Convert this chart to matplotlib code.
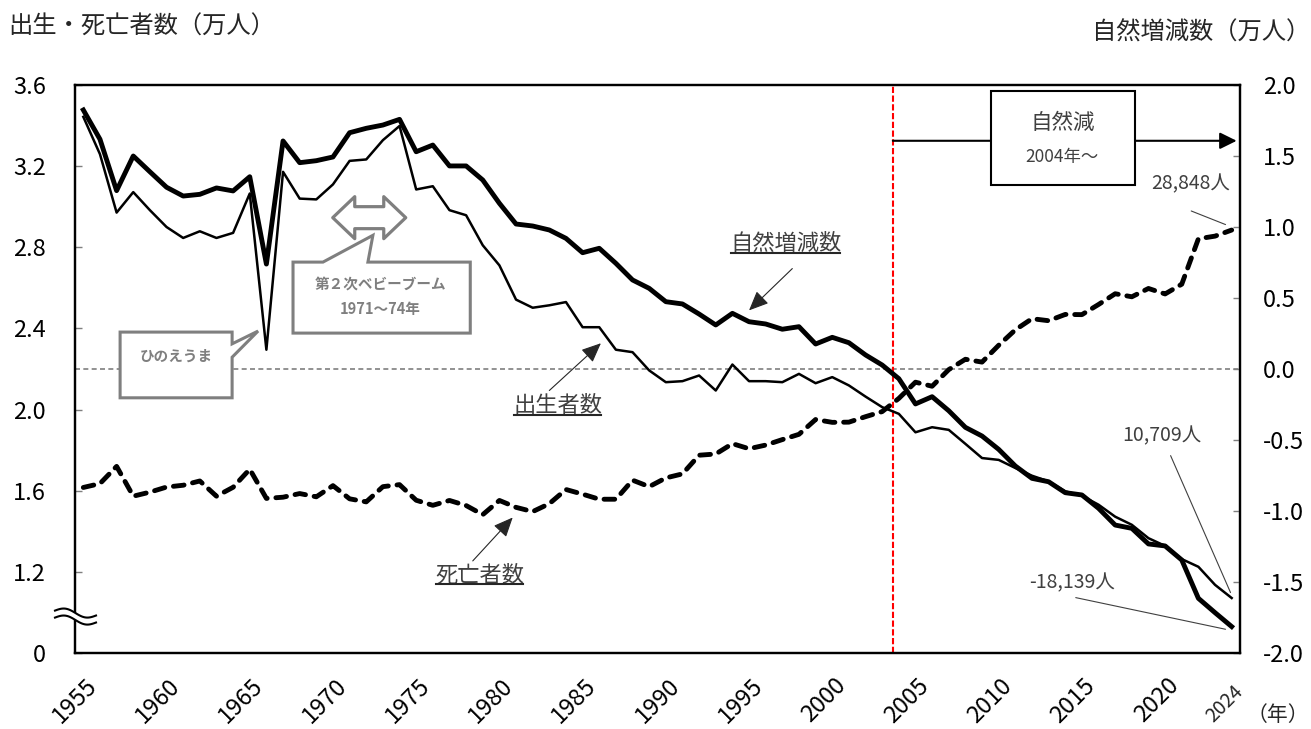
import numpy as np
import matplotlib
matplotlib.use('Agg')
import matplotlib.pyplot as plt
from matplotlib.patches import Polygon, Rectangle
from matplotlib.lines import Line2D
from matplotlib.transforms import ScaledTranslation, IdentityTransform

plt.rcParams['font.family'] = ['Noto Sans CJK JP', 'DejaVu Sans']

# data (万人)
years = np.arange(1955, 2025)
births = [3.443, 3.259, 2.971, 3.072, 2.983, 2.900, 2.846, 2.879, 2.846, 2.871,
          3.065, 2.295, 3.172, 3.040, 3.036, 3.110, 3.226, 3.233, 3.328, 3.398,
          3.085, 3.101, 2.983, 2.958, 2.810, 2.711, 2.542, 2.502, 2.514, 2.530,
          2.406, 2.406, 2.295, 2.283, 2.193, 2.135, 2.140, 2.168, 2.094, 2.222,
          2.140, 2.140, 2.135, 2.176, 2.130, 2.160, 2.119, 2.064, 2.012, 1.979,
          1.888, 1.913, 1.900, 1.831, 1.761, 1.752, 1.712, 1.674, 1.646, 1.597,
          1.575, 1.531, 1.472, 1.432, 1.366, 1.328, 1.263, 1.225, 1.136, 1.071]
deaths = [1.616, 1.635, 1.720, 1.573, 1.593, 1.618, 1.627, 1.648, 1.573, 1.617,
          1.706, 1.562, 1.568, 1.586, 1.570, 1.625, 1.560, 1.545, 1.620, 1.630,
          1.553, 1.528, 1.552, 1.527, 1.482, 1.552, 1.518, 1.497, 1.536, 1.606,
          1.583, 1.558, 1.558, 1.652, 1.620, 1.663, 1.683, 1.775, 1.781, 1.832,
          1.807, 1.825, 1.852, 1.878, 1.951, 1.937, 1.938, 1.965, 1.990, 2.055,
          2.135, 2.115, 2.197, 2.248, 2.234, 2.317, 2.393, 2.448, 2.438, 2.469,
          2.468, 2.518, 2.571, 2.556, 2.597, 2.570, 2.618, 2.842, 2.855, 2.885]
natural = [1.824, 1.618, 1.256, 1.500, 1.389, 1.280, 1.218, 1.230, 1.275, 1.254,
           1.354, 0.739, 1.606, 1.453, 1.467, 1.493, 1.664, 1.695, 1.718, 1.758,
           1.530, 1.577, 1.430, 1.430, 1.331, 1.167, 1.021, 1.007, 0.979, 0.920,
           0.819, 0.850, 0.744, 0.627, 0.568, 0.474, 0.458, 0.387, 0.310, 0.392,
           0.333, 0.317, 0.280, 0.298, 0.176, 0.223, 0.185, 0.099, 0.028, -0.068,
           -0.246, -0.195, -0.294, -0.411, -0.472, -0.566, -0.683, -0.770, -0.794, -0.871,
           -0.887, -0.981, -1.099, -1.122, -1.232, -1.246, -1.345, -1.615, -1.716, -1.814]

year_ticks = list(range(1955, 2021, 5))
left_ticks = [0.8, 1.2, 1.6, 2.0, 2.4, 2.8, 3.2, 3.6]
left_labels = ['0', '1.2', '1.6', '2.0', '2.4', '2.8', '3.2', '3.6']
right_ticks = [-2.0, -1.5, -1.0, -0.5, 0.0, 0.5, 1.0, 1.5, 2.0]
right_labels = ['-2.0', '-1.5', '-1.0', '-0.5', '0.0', '0.5', '1.0', '1.5', '2.0']

TXT = '#404040'
GRAY = '#7f7f7f'

fig = plt.figure(figsize=(13.11, 7.29), dpi=100)
ax = fig.add_axes([75 / 1311, 76 / 729, 1165 / 1311, 568 / 729])
ax2 = ax.twinx()

# lines
ax.plot(years, births, color='black', lw=1.8, solid_joinstyle='round', zorder=3)
ax.plot(years, deaths, color='black', lw=3.5, linestyle=(0, (2.2, 1.8)),
        dash_capstyle='round', dash_joinstyle='round', zorder=3)
ax2.plot(years, natural, color='black', lw=3.5, solid_joinstyle='round', zorder=3)

ax.set_xlim(1954.5, 2024.5)
ax.set_ylim(0.8, 3.6)
ax2.set_ylim(-2.0, 2.0)
ax.set_xticks([])

ax.set_yticks(left_ticks, left_labels)
ax2.set_yticks(right_ticks, right_labels)
ax.tick_params(axis='y', direction='in', length=5, width=1, color=GRAY, pad=21, labelsize=17)
ax2.tick_params(axis='y', direction='in', length=5, width=1, color=GRAY, pad=16.5, labelsize=17)
for a in (ax, ax2):
    for sp in a.spines.values():
        sp.set_linewidth(1.6)
        sp.set_color('black')

# year labels
off = ScaledTranslation(2 / 100, -21 / 100, fig.dpi_scale_trans)
for yr in year_ticks:
    ax.text(yr, 0, str(yr), transform=ax.get_xaxis_transform() + off, rotation=45,
            ha='right', va='top', rotation_mode='anchor', fontsize=17)
off24 = ScaledTranslation(1 / 100, -28 / 100, fig.dpi_scale_trans)
ax.text(2024, 0, '2024', transform=ax.get_xaxis_transform() + off24, rotation=45,
        ha='right', va='top', rotation_mode='anchor', fontsize=14, color='#262626')

# reference lines
ax.axhline(2.2, color=GRAY, lw=1.2, linestyle=(0, (3, 2)), zorder=1)
ax.axvline(2003.64, color='red', lw=1.5, linestyle=(0, (3, 1.2)), zorder=2)

# axis titles
fig.text(8 / 1311, 1 - 27 / 729, '出生・死亡者数（万人）', fontsize=17.5, va='center', ha='left', color='#262626')
fig.text(1092 / 1311, 1 - 33 / 729, '自然増減数（万人）', fontsize=17.5, va='center', ha='left', color='#262626')
fig.text(1247 / 1311, 1 - 715 / 729, '（年）', fontsize=15, va='center', ha='left', color='#262626')

# 自然減 box + arrow
ax.annotate('', xy=(2024.3, 3.325), xytext=(2003.64, 3.325),
            arrowprops=dict(arrowstyle='-|>,head_length=0.85,head_width=0.42', mutation_scale=12,
                            lw=1.5, color='black', shrinkA=0, shrinkB=0), zorder=4)
ax.add_patch(Rectangle((2009.53, 3.106), 8.64, 0.466, fc='white', ec='black', lw=1.5, zorder=5))
ax.text(2013.87, 3.412, '自然減', ha='center', va='center', fontsize=15.5, color=TXT, zorder=6)
ax.text(2013.83, 3.246, '2004年〜', ha='center', va='center', fontsize=12.5, color=TXT, zorder=6)

# callouts
hinoe = [(1957.21, 2.382), (1963.94, 2.382), (1963.94, 2.324), (1965.5, 2.387),
         (1963.94, 2.258), (1963.94, 2.058), (1957.21, 2.058)]
ax.add_patch(Polygon(hinoe, closed=True, fc='white', ec=GRAY, lw=2.2, joinstyle='miter', zorder=4))
ax.text(1960.6, 2.267, 'ひのえうま', ha='center', va='center', fontsize=10.5,
        fontweight='bold', color=GRAY, zorder=5)

boom = [(1967.6, 2.727), (1969.4, 2.727), (1972.4, 2.859), (1972.1, 2.727),
        (1978.25, 2.727), (1978.25, 2.377), (1967.6, 2.377)]
ax.add_patch(Polygon(boom, closed=True, fc='white', ec=GRAY, lw=2.2, joinstyle='miter', zorder=4))
ax.text(1972.87, 2.621, '第２次ベビーブーム', ha='center', va='center', fontsize=10.5,
        fontweight='bold', color=GRAY, zorder=5)
ax.text(1972.81, 2.497, '1971〜74年', ha='center', va='center', fontsize=10.5,
        fontweight='bold', color=GRAY, zorder=5)

# double arrow (pixel sizes)
L, hl, hh, hs = 36.5, 22, 21, 11
darrow = np.array([(-L, 0), (-L + hl, hh), (-L + hl, hs), (L - hl, hs), (L - hl, hh), (L, 0),
                   (L - hl, -hh), (L - hl, -hs), (-L + hl, -hs), (-L + hl, -hh)]) / 100
ax.add_patch(Polygon(darrow, closed=True, fc='white', ec=GRAY, lw=2.3, joinstyle='round',
                     transform=fig.dpi_scale_trans + ScaledTranslation(1972.18, 2.946, ax.transData),
                     zorder=4))

# series labels with arrows
arrow_kw = dict(arrowstyle='-|>,head_length=0.8,head_width=0.35', mutation_scale=15,
                lw=0.8, color='#262626', shrinkA=0, shrinkB=0)
labels = []
labels.append(ax.text(1997.2, 2.821, '自然増減数', ha='center', va='center', fontsize=16, color=TXT))
ax.annotate('', xy=(1995.0, 2.489), xytext=(1997.6, 2.695), arrowprops=arrow_kw)
labels.append(ax.text(1983.5, 2.020, '出生者数', ha='center', va='center', fontsize=16, color=TXT))
ax.annotate('', xy=(1986.1, 2.327), xytext=(1983.0, 2.094), arrowprops=arrow_kw)
labels.append(ax.text(1978.8, 1.185, '死亡者数', ha='center', va='center', fontsize=16, color=TXT))
ax.annotate('', xy=(1980.8, 1.468), xytext=(1978.4, 1.254), arrowprops=arrow_kw)

# end value labels
line_kw = dict(arrowstyle='-', lw=0.8, color=TXT, shrinkA=0, shrinkB=0)
ax.text(2021.53, 3.111, '28,848人', ha='center', va='center', fontsize=14, color=TXT)
ax.annotate('', xy=(2023.63, 2.912), xytext=(2021.57, 2.979), arrowprops=line_kw)
ax.text(2019.8, 1.872, '10,709人', ha='center', va='center', fontsize=14, color=TXT)
ax.annotate('', xy=(2023.93, 1.098), xytext=(2020.33, 1.773), arrowprops=line_kw)
ax.text(2014.4, 1.147, '-18,139人', ha='center', va='center', fontsize=14, color=TXT)
ax.annotate('', xy=(2023.63, 0.917), xytext=(2014.63, 1.073), arrowprops=line_kw)

# axis break mark on the left spine
bx = np.linspace(55, 96, 60)
wave = 3.2 * np.sin(2 * np.pi * (bx - 55) / 41)
up = 729 - (613 - wave + (bx - 75) * 0.12)
lo = up - 7
fill = np.concatenate([np.c_[bx, up], np.c_[bx[::-1], lo[::-1]]]) / 100
fig.add_artist(Polygon(fill, closed=True, fc='white', ec='none', transform=fig.dpi_scale_trans, zorder=10))
fig.add_artist(Line2D(bx / 100, up / 100, color='black', lw=1.5, transform=fig.dpi_scale_trans, zorder=11))
fig.add_artist(Line2D(bx / 100, lo / 100, color='black', lw=1.5, transform=fig.dpi_scale_trans, zorder=11))

# underlines for series labels
fig.canvas.draw()
renderer = fig.canvas.get_renderer()
for t in labels:
    bb = t.get_window_extent(renderer)
    fig.add_artist(Line2D([bb.x0 + 1, bb.x1 - 1], [bb.y0 + 2, bb.y0 + 2], color='#262626', lw=1.5,
                          transform=IdentityTransform()))

fig.savefig('out.png', dpi=100)
